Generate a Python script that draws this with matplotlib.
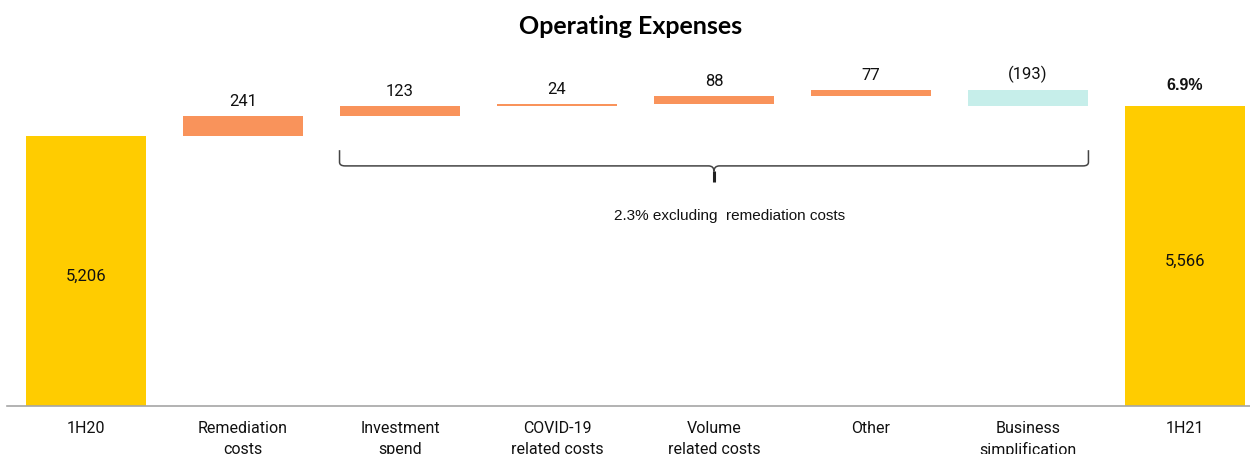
import matplotlib.pyplot as plt
import numpy as np
from matplotlib.path import Path
from matplotlib.patches import PathPatch
import matplotlib.transforms as mtransforms

# data
categories = ['1H20', 'Remediation\ncosts', 'Investment\nspend', 'COVID-19\nrelated costs',
              'Volume\nrelated costs', 'Other', 'Business\nsimplification', '1H21']
start_value = 5206
deltas = [241, 123, 24, 88, 77, -193]
end_value = 5566
delta_labels = ['241', '123', '24', '88', '77', '(193)']
growth_label = '6.9%'
bracket_note = '2.3% excluding  remediation costs'

yellow = '#FFCC00'
orange = '#F9935B'
teal = '#C6EEEA'

fig = plt.figure(figsize=(12.5, 4.54), dpi=100)
ax = fig.add_axes([7 / 1250, 48 / 454, 1243 / 1250, 366 / 454])

x = np.arange(len(categories))
w = 0.77
ybase = 1966

# totals
ax.bar(x[0], start_value - ybase, bottom=ybase, width=w, color=yellow)
ax.bar(x[-1], end_value - ybase, bottom=ybase, width=w, color=yellow)

running = start_value
tops = []
for i, d in enumerate(deltas):
    if d >= 0:
        bottom, h, c = running, d, orange
    else:
        bottom, h, c = running + d, -d, teal
    ax.bar(x[i + 1], h, bottom=bottom, width=w, color=c)
    tops.append(bottom + h)
    running += d

for i, (t, lab) in enumerate(zip(tops, delta_labels)):
    ax.annotate(lab, (x[i + 1], t), xytext=(0, 5), textcoords='offset points',
                ha='center', va='bottom', fontsize=12, family='Roboto', color='#111111')

ax.annotate(growth_label, (x[-1], end_value), xytext=(0, 9), textcoords='offset points',
            ha='center', va='bottom', fontsize=11.5, family='Liberation Sans',
            fontweight='bold', color='#111111')

for xi, v in [(x[0], start_value), (x[-1], end_value)]:
    ax.annotate(f'{v:,}', (xi, (ybase + v) / 2), xytext=(0, -4), textcoords='offset points',
                ha='center', va='center', fontsize=12, family='Roboto', color='#111111')

# bracket under the middle bars
trans = mtransforms.blended_transform_factory(ax.transData, ax.transAxes)
x0 = x[2] - w / 2
x1 = x[6] + w / 2
xm = (x0 + x1) / 2
yl = 0.656
yt = 0.699
ym = 0.612
r = 0.035
verts = [(x0, yt), (x0, yl + 0.01), (x0, yl), (x0 + r, yl),
         (xm - r, yl), (xm, yl), (xm, yl - 0.015),
         (xm, yl - 0.015), (xm, yl), (xm + r, yl),
         (x1 - r, yl), (x1, yl), (x1, yl + 0.01), (x1, yt)]
codes = [Path.MOVETO, Path.LINETO, Path.CURVE3, Path.CURVE3,
         Path.LINETO, Path.CURVE3, Path.CURVE3,
         Path.MOVETO, Path.CURVE3, Path.CURVE3,
         Path.LINETO, Path.CURVE3, Path.CURVE3, Path.LINETO]
ax.add_patch(PathPatch(Path(verts, codes), transform=trans, fill=False,
                       edgecolor='#444444', linewidth=1.1, clip_on=False))
ax.plot([xm, xm], [yl - 0.015, ym], transform=trans, color='#222222', linewidth=2.2,
        solid_capstyle='butt')
ax.text(xm + 0.1, 0.519, bracket_note, transform=trans, ha='center', va='center',
        fontsize=11, family='Liberation Sans', color='#111111')

ax.set_xlim(-0.503, 7.414)
ax.set_ylim(ybase, 6358)
ax.set_xticks(x)
ax.set_xticklabels(categories, fontsize=11.5, family='Roboto', color='#111111',
                   linespacing=1.45)
ax.tick_params(axis='x', length=0, pad=11)
ax.set_yticks([])
for s in ['top', 'right', 'left']:
    ax.spines[s].set_visible(False)
ax.spines['bottom'].set_color('#A6A6A6')
ax.spines['bottom'].set_linewidth(1.2)

fig.text(631 / 1250, 1 - 26 / 454, 'Operating Expenses', ha='center', va='center',
         fontsize=18, family='Lato', fontweight='bold', color='#000000')

fig.savefig('out.png', dpi=100)
